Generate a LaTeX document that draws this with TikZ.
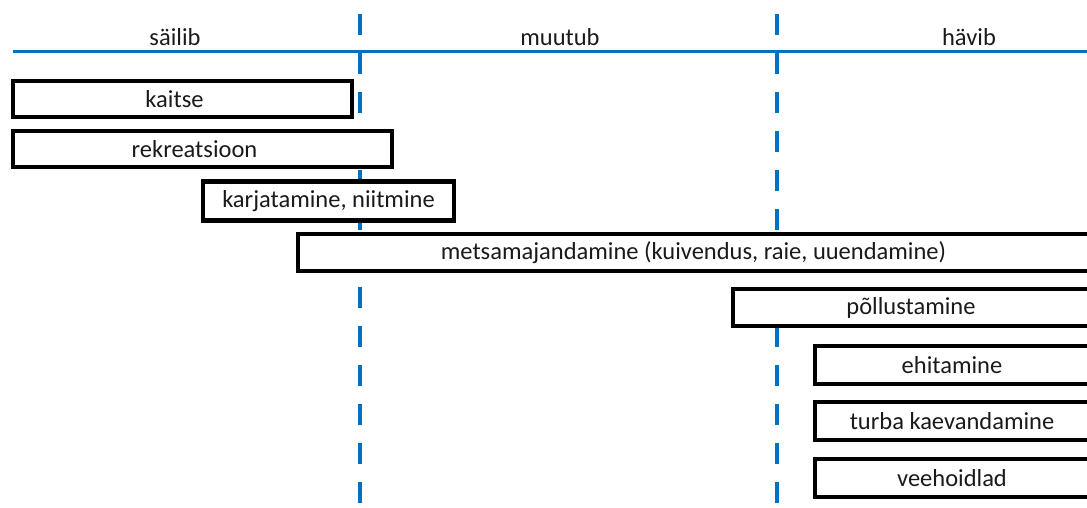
\documentclass[tikz,border=0pt]{standalone}
\usepackage{fontspec}
\setmainfont{Carlito}
\definecolor{lineblue}{HTML}{0070C0}
\definecolor{txt}{HTML}{1A1A1A}
\begin{document}
\begin{tikzpicture}[x=1pt,y=-1pt,
  lbl/.style={font=\fontsize{24.5}{28}\selectfont, text=txt, inner sep=0pt},
  box/.style={lbl, draw=black, line width=3.5pt, fill=white, inner sep=0pt},
  divider/.style={draw=lineblue, line width=4pt, dash pattern=on 21pt off 18pt},
  axis/.style={draw=lineblue, line width=3pt}]
\useasboundingbox (0,0) rectangle (1087,507);
\clip (0,0) rectangle (1087,507);
% header labels
\node[lbl] (sailib) at (175,37) {säilib};
\node[lbl] (muutub) at (560,37) {muutub};
\node[lbl] (havib) at (969,37) {hävib};
% axis line and dividers
\coordinate (axL) at (13,51);
\coordinate (axR) at (1087,51);
\draw[axis] (axL) -- (axR);
\coordinate (d1t) at (360,14);
\coordinate (d1b) at (360,507);
\coordinate (d2t) at (777,14);
\coordinate (d2b) at (777,507);
\draw[divider] (d1t) -- (d1b);
\draw[divider] (d2t) -- (d2b);
% boxes
\node[box, minimum width=339pt, minimum height=36pt] (kaitse) at (182.5,99) {\hspace*{-16pt}kaitse};
\node[box, minimum width=379pt, minimum height=36pt] (rekr) at (202.5,149) {\hspace*{-16pt}rekreatsioon};
\node[box, line width=4.5pt, minimum width=251pt, minimum height=39pt] (karj) at (328.5,201) {karjatamine, niitmine};
\node[box, minimum width=791pt, minimum height=37pt] (mets) at (693.5,252.5) {metsamajandamine (kuivendus, raie, uuendamine)};
\node[box, minimum width=356pt, minimum height=37pt] (pold) at (911,307.5) {põllustamine};
\node[box, minimum width=274pt, minimum height=38pt] (ehit) at (952,365) {ehitamine};
\node[box, minimum width=274pt, minimum height=38pt] (turba) at (952,421) {turba kaevandamine};
\node[box, minimum width=274pt, minimum height=38pt] (vee) at (952,478) {veehoidlad};
\end{tikzpicture}
\end{document}
